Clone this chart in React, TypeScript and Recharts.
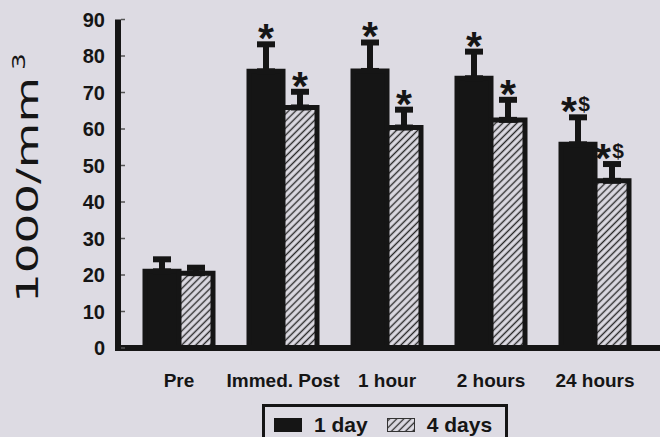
import React from 'react';
import { BarChart, Bar, XAxis, YAxis, ErrorBar, LabelList } from 'recharts';

const categories = ['Pre', 'Immed. Post', '1 hour', '2 hours', '24 hours'];
const oneDay = [21, 75.8, 75.9, 73.9, 55.8];
const oneDayErr = [3.3, 7.4, 7.8, 7.3, 7.4];
const oneDaySig = ['', '*', '*', '*', '*$'];
const fourDays = [20.5, 65.9, 60.4, 62.5, 45.8];
const fourDaysErr = [1.5, 4.3, 4.9, 5.5, 4.6];
const fourDaysSig = ['', '*', '*', '*', '*$'];
const yTicks = [0, 10, 20, 30, 40, 50, 60, 70, 80, 90];

const BG = '#dddbe3';
const INK = '#151515';
const FONT = '"Liberation Sans", Arial, sans-serif';

const data = categories.map((name, i) => ({
  name,
  oneDay: oneDay[i],
  oneDayErr: [0, oneDayErr[i]],
  oneDaySig: oneDaySig[i],
  fourDays: fourDays[i],
  fourDaysErr: [0, fourDaysErr[i]],
  fourDaysSig: fourDaysSig[i],
}));

// asterisk / dollar marks sitting above the error bar cap
const sigLabel = (vals: number[], errs: number[], sigs: string[]) => (props: any) => {
  const { x, y, width, height, index } = props;
  const sig = sigs[index];
  if (!sig) return null;
  const ppu = height / vals[index];
  const capTop = y - errs[index] * ppu - 3;
  const cx = x + width / 2;
  if (sig === '*$') {
    return (
      <g>
        <text x={cx - 9} y={capTop + 11} textAnchor="middle" fontSize={41} fontWeight="bold" fill={INK} fontFamily={FONT}>*</text>
        <text x={cx + 6} y={capTop - 3} textAnchor="middle" fontSize={21} fontWeight="bold" fill={INK} fontFamily={FONT}>$</text>
      </g>
    );
  }
  return (
    <text x={cx} y={capTop + 11} textAnchor="middle" fontSize={41} fontWeight="bold" fill={INK} fontFamily={FONT}>*</text>
  );
};

const YTick = (props: any) => {
  const { x, y, payload } = props;
  return (
    <g>
      <line x1={x + 16} x2={x + 20} y1={y} y2={y} stroke="#555" strokeWidth={1.5} />
      <text x={x} y={y + 7} textAnchor="end" fontSize={20} fontWeight="bold" fill={INK} fontFamily={FONT}>{payload.value}</text>
    </g>
  );
};

const XTick = (props: any) => {
  const { x, y, payload } = props;
  return (
    <text x={x} y={y + 31} textAnchor="middle" fontSize={19} fontWeight="bold" fill={INK} fontFamily={FONT}>{payload.value}</text>
  );
};

// stretched along the text direction, like the scanned original
const YLabel = () => (
  <text transform="translate(38,303) rotate(-90) scale(1.56,1)" fontSize={30} fill={INK} fontFamily='"DejaVu Sans", sans-serif'>
    1000/mm<tspan fontSize={17} dx={4.5} dy={-13}>3</tspan>
  </text>
);

export default function App() {
  return (
    <div style={{ position: 'absolute', left: 0, top: 0, width: 660, height: 437, background: BG, overflow: 'hidden' }}>
      <BarChart
        width={660}
        height={437}
        data={data}
        margin={{ top: 19.5, right: 0, left: 0, bottom: 59 }}
        barGap={0}
      >
        <defs>
          <pattern id="hatch" width="5" height="5" patternUnits="userSpaceOnUse" patternTransform="rotate(45)">
            <rect width="5" height="5" fill={BG} />
            <line x1="2.5" y1="0" x2="2.5" y2="5" stroke="#2a2a2a" strokeWidth="1.4" />
          </pattern>
        </defs>
        <XAxis
          dataKey="name"
          interval={0}
          tickLine={false}
          axisLine={{ stroke: INK, strokeWidth: 6, strokeLinecap: 'square' }}
          padding={{ left: 9, right: 13 }}
          height={30}
          tick={<XTick />}
        />
        <YAxis
          domain={[0, 90]}
          ticks={yTicks}
          width={118}
          tickLine={false}
          tickMargin={7}
          axisLine={{ stroke: INK, strokeWidth: 6 }}
          tick={<YTick />}
          label={YLabel}
        />
        <Bar dataKey="oneDay" barSize={34} fill={INK} stroke={INK} strokeWidth={5} isAnimationActive={false}>
          <ErrorBar dataKey="oneDayErr" direction="y" width={9} stroke={INK} strokeWidth={6} />
          <LabelList dataKey="oneDaySig" content={sigLabel(oneDay, oneDayErr, oneDaySig)} />
        </Bar>
        <Bar dataKey="fourDays" barSize={34} fill="url(#hatch)" stroke={INK} strokeWidth={5} isAnimationActive={false}>
          <ErrorBar dataKey="fourDaysErr" direction="y" width={9} stroke={INK} strokeWidth={6} />
          <LabelList dataKey="fourDaysSig" content={sigLabel(fourDays, fourDaysErr, fourDaysSig)} />
        </Bar>
      </BarChart>
      <div
        style={{
          position: 'absolute', left: 262, top: 404, width: 240, height: 40,
          border: `3px solid ${INK}`, display: 'flex', alignItems: 'flex-start',
          fontFamily: FONT, fontWeight: 'bold', fontSize: 21, color: INK,
        }}
      >
        <div style={{ width: 28, height: 14, background: INK, marginLeft: 9, marginTop: 11 }} />
        <span style={{ marginLeft: 12, marginTop: 6, lineHeight: '24px' }}>1 day</span>
        <svg width={28} height={14} style={{ marginLeft: 19, marginTop: 11 }}>
          <defs>
            <pattern id="hatchLegend" width="5" height="5" patternUnits="userSpaceOnUse" patternTransform="rotate(45)">
              <rect width="5" height="5" fill={BG} />
              <line x1="2.5" y1="0" x2="2.5" y2="5" stroke="#2a2a2a" strokeWidth="1.3" />
            </pattern>
          </defs>
          <rect x={0.5} y={0.5} width={27} height={13} fill="url(#hatchLegend)" stroke="#333" strokeWidth={1} />
        </svg>
        <span style={{ marginLeft: 12, marginTop: 6, lineHeight: '24px' }}>4 days</span>
      </div>
    </div>
  );
}
